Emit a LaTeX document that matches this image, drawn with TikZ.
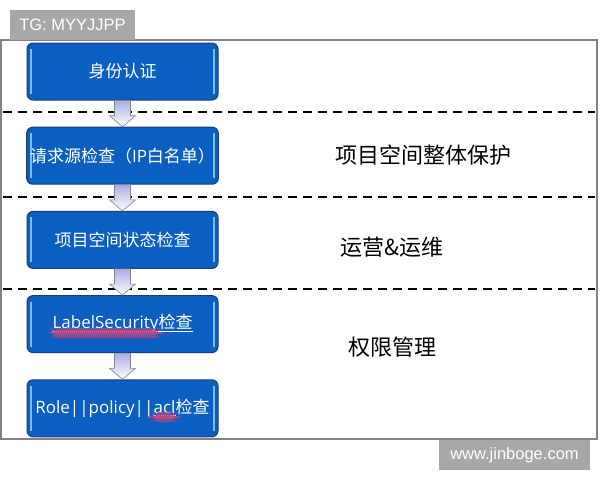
\documentclass[tikz,border=0pt]{standalone}
\usepackage{fontspec}
\setmainfont{Noto Sans CJK SC}
\newfontfamily\tagfont{Liberation Sans}
\newfontfamily\boxlatin{Open Sans}
\usetikzlibrary{positioning, calc, decorations.pathmorphing}

\definecolor{boxblue}{RGB}{10,95,192}
\definecolor{boxedge}{RGB}{30,60,110}
\definecolor{boxlight}{RGB}{120,190,245}
\definecolor{arrowfill}{RGB}{170,174,226}
\definecolor{arrowedge}{RGB}{130,130,150}
\definecolor{taggray}{RGB}{168,168,168}
\definecolor{framegray}{RGB}{130,130,130}
\definecolor{wavered}{RGB}{190,70,130}

\newlength\ulwidth
\newcommand{\wline}[1]{\settowidth{\ulwidth}{#1}\rlap{\rule[-2.6pt]{\ulwidth}{0.9pt}}#1}
\newcommand{\redwave}[1]{\tikz[baseline=(w.base)]{\node[inner sep=0pt, outer sep=0pt, minimum size=0pt,
		draw=none, fill=none, path picture={}, text=white] (w) {#1};
	\draw[wavered, line width=0.4pt, decorate, decoration={snake, amplitude=0.5pt, segment length=2pt}]
		([yshift=-4pt]w.base west) -- ([yshift=-4pt]w.base east);}}

\begin{document}
\begin{tikzpicture}[x=1pt, y=-1pt, node distance=84.2pt,
	check/.style={rectangle, rounded corners=6pt, fill=boxblue, draw=boxedge, line width=1pt,
		minimum width=191pt, minimum height=57pt, text=white, font=\fontsize{17}{20}\selectfont,
		path picture={\draw[boxlight, line width=1.8pt]
			([xshift=4pt,yshift=-6pt]path picture bounding box.north west) -- ([xshift=4pt,yshift=6pt]path picture bounding box.south west);
			\draw[boxlight, line width=1.8pt]
			([xshift=-4pt,yshift=-6pt]path picture bounding box.north east) -- ([xshift=-4pt,yshift=6pt]path picture bounding box.south east);}},
	flow/.style={draw=arrowedge, line width=0.6pt, top color=arrowfill, bottom color=white,
		to path={let \p1=(\tikztostart), \p2=(\tikztotarget) in
			(\x1-8pt,\y1) -- (\x1+8pt,\y1) -- (\x1+8pt,\y2+11pt) -- (\x1+13pt,\y2+11pt)
			-- (\x1,\y2) -- (\x1-13pt,\y2+11pt) -- (\x1-8pt,\y2+11pt) -- cycle}},
	layer/.style={font=\fontsize{22}{26}\selectfont},
	split/.style={dash pattern=on 9pt off 6pt, line width=1.6pt},
	tag/.style={fill=taggray, text=white, font=\tagfont\fontsize{16.5}{18}\selectfont}]
	\useasboundingbox (0,0) rectangle (600,480);
	% frame and tags
	\draw[framegray, line width=1.2pt] (1,40) rectangle (597,439);
	\fill[taggray] (10,10) rectangle (135,40);
	\node[tag] (tg) at (72.5,25) {TG: MYYJJPP};
	\fill[taggray] (439,440) rectangle (590,470);
	\node[tag] (site) at (514.5,455) {www.jinboge.com};
	% layer borders
	\draw[split] (3,112) -- (595,112);
	\draw[split] (3,197) -- (595,197);
	\draw[split] (3,289) -- (595,289);
	% checks
	\node[check] (id) at (122.5,71.5) {身份认证};
	\node[check, below of=id] (ip) {请求源检查（{\boxlatin IP}白名单）};
	\node[check, below of=ip] (state) {项目空间状态检查};
	\node[check, below of=state] (label) {\wline{\redwave{\boxlatin LabelSecurity}检查}};
	\node[check, below of=label] (acl) {{\boxlatin Role||policy||}\wline{\redwave{\boxlatin acl}}检查};
	\foreach \from/\to in {id/ip, ip/state, state/label, label/acl}
		\path[flow] (\from.south) to (\to.north);
	% layers
	\node[layer] (protect) at (423,155) {项目空间整体保护};
	\node[layer] (ops) at (392,247) {运营\&运维};
	\node[layer] (auth) at (392,347) {权限管理};
\end{tikzpicture}
\end{document}
